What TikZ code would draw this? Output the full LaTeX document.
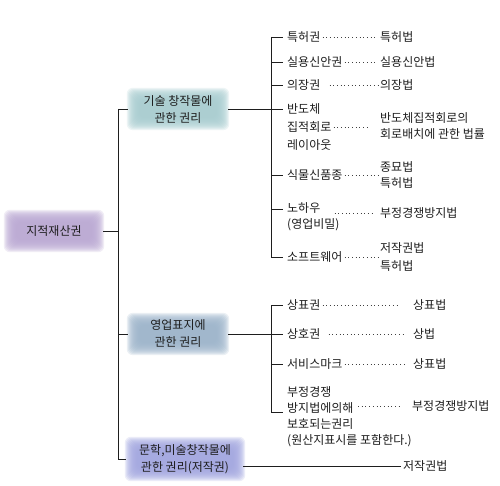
\documentclass[tikz,border=0pt]{standalone}
\usepackage{fontspec}
\newfontfamily\kr{Noto Sans CJK KR}
\usetikzlibrary{backgrounds}
\definecolor{rootc}{HTML}{BBA9D4}
\definecolor{techc}{HTML}{A9CDD1}
\definecolor{tradec}{HTML}{9DB5CB}
\definecolor{litc}{HTML}{A3A7E0}
\definecolor{ink}{HTML}{1E1E1E}

\begin{document}
\begin{tikzpicture}[
  x=1pt, y=-1pt,
  box/.style={
    inner sep=0pt, align=center,
    font=\kr\fontsize{12}{17}\selectfont, text=ink
  },
  entry/.style={anchor=west, inner sep=2pt, align=left,
    font=\kr\fontsize{12}{16}\selectfont, text=ink},
  tall/.style={font=\kr\fontsize{12}{18}\selectfont},
  link/.style={draw=ink, line width=0.85pt},
  leader/.style={draw=ink!85, line width=0.9pt, dash pattern=on 0.9pt off 2.8pt},
]

\useasboundingbox (0,0) rectangle (500,486);

% =============================================
% Boxes: root and three branches
% =============================================
\node[box, minimum width=86pt, minimum height=28pt] (root) at (54,231) {지적재산권};

\node[box, minimum width=88pt, minimum height=26pt] (tech) at (178,109)
  {기술 창작물에\\관한 권리};

\node[box, minimum width=88pt, minimum height=26pt] (trade) at (178,334)
  {영업표지에\\관한 권리};

\node[box, minimum width=106pt, minimum height=30pt] (lit) at (185,459)
  {문학,미술창작물에\\관한 권리(저작권)};

% =============================================
% Technical creations: rights and laws
% =============================================
\node[entry] (pat) at (285,37) {특허권};
\node[entry] (patlaw) at (378,37) {특허법};

\node[entry] (um) at (285,62) {실용신안권};
\node[entry] (umlaw) at (378,62) {실용신안법};

\node[entry] (des) at (285,85) {의장권};
\node[entry] (deslaw) at (378,85) {의장법};

\node[entry, tall] (chip) at (285,127) {반도체\\집적회로\\레이아웃};
\node[entry] (chiplaw) at (378,126) {반도체집적회로의\\회로배치에 관한 법률};

\node[entry] (plant) at (285,175) {식물신품종};
\node[entry] (plantlaw) at (378,175) {종묘법\\특허법};

\node[entry] (know) at (285,217) {노하우\\(영업비밀)};
\node[entry] (knowlaw) at (378,213) {부정경쟁방지법};

\node[entry] (sw) at (285,257) {소프트웨어};
\node[entry, tall] (swlaw) at (378,257) {저작권법\\특허법};

% =============================================
% Business marks: rights and laws
% =============================================
\node[entry] (tm) at (285,305) {상표권};
\node[entry] (tmlaw) at (411,305) {상표법};

\node[entry] (tn) at (285,334) {상호권};
\node[entry] (tnlaw) at (411,334) {상법};

\node[entry] (sm) at (285,364) {서비스마크};
\node[entry] (smlaw) at (411,364) {상표법};

\node[entry] (uc) at (285,417)
  {부정경쟁\\방지법에의해\\보호되는권리\\(원산지표시를 포함한다.)};
\node[entry] (uclaw) at (410,406) {부정경쟁방지법};

% Literary works
\node[entry] (litlaw) at (401,466) {저작권법};

% =============================================
% Tree lines
% =============================================
\coordinate (rj) at (118,231);
\coordinate (g1) at (271,109);
\coordinate (g2) at (271,334);
\coordinate (knowtick) at ([yshift=8pt]know.west);
\coordinate (uctick) at ([yshift=5pt]uc.west);

\draw[link, shorten <=6pt] (root) -- (rj);
\draw[link] (rj |- tech) -- (rj |- lit);
\draw[link, shorten >=6pt] (rj |- tech) -- (tech);
\draw[link, shorten >=6pt] (rj |- trade) -- (trade);
\draw[link, shorten >=6pt] (rj |- lit) -- (lit);

% first bracket
\draw[link, shorten <=6pt] (tech) -- (g1);
\draw[link] (g1 |- pat) -- (g1 |- sw);
\foreach \n in {pat, um, des, plant, sw}
  \draw[link, shorten >=2pt] (g1 |- \n) -- (\n);
\draw[link, shorten >=2pt] (g1) -- (chip.west |- g1);
\draw[link, shorten >=2pt] (g1 |- knowtick) -- (knowtick);

% second bracket
\draw[link, shorten <=6pt] (trade) -- (g2);
\draw[link] (g2 |- tm) -- (g2 |- uctick);
\foreach \n in {tm, tn, sm}
  \draw[link, shorten >=2pt] (g2 |- \n) -- (\n);
\draw[link, shorten >=2pt] (g2 |- uctick) -- (uctick);

% literary works
\draw[link, shorten <=5pt] (lit.east |- litlaw) -- (litlaw);

% =============================================
% Dotted leaders
% =============================================
\draw[leader] (pat) -- (patlaw);
\draw[leader, shorten >=3pt] (um) -- (umlaw);
\draw[leader, shorten <=7pt] (des) -- (deslaw);
\draw[leader, shorten >=11pt] (chip.east) -- (chip.east -| chiplaw.west);
\draw[leader] (plant) -- (plantlaw);
\draw[leader, shorten <=-7pt, shorten >=3pt] (know.east |- knowlaw) -- (knowlaw.west);
\draw[leader] (sw) -- (swlaw);
\draw[leader, shorten >=14pt] (tm) -- (tmlaw);
\draw[leader, shorten <=6pt, shorten >=6pt] (tn) -- (tnlaw);
\draw[leader, shorten >=6pt] (sm) -- (smlaw);
\draw[leader, shorten >=10pt] ([xshift=-52pt]uclaw.west) -- (uclaw.west);

% Canvas and soft glow boxes behind the texts
\begin{scope}[on background layer]
  \fill[white] (0,0) rectangle (500,486);
  \foreach \n/\c in {root/rootc, tech/techc, trade/tradec, lit/litc}
    \foreach \i in {-5,...,7}
      \fill[\c, opacity=0.2, rounded corners=6pt]
        ([shift={({-1*\i},{-1*\i})}]\n.north west) rectangle ([shift={(\i,\i)}]\n.south east);
\end{scope}

\end{tikzpicture}
\end{document}
